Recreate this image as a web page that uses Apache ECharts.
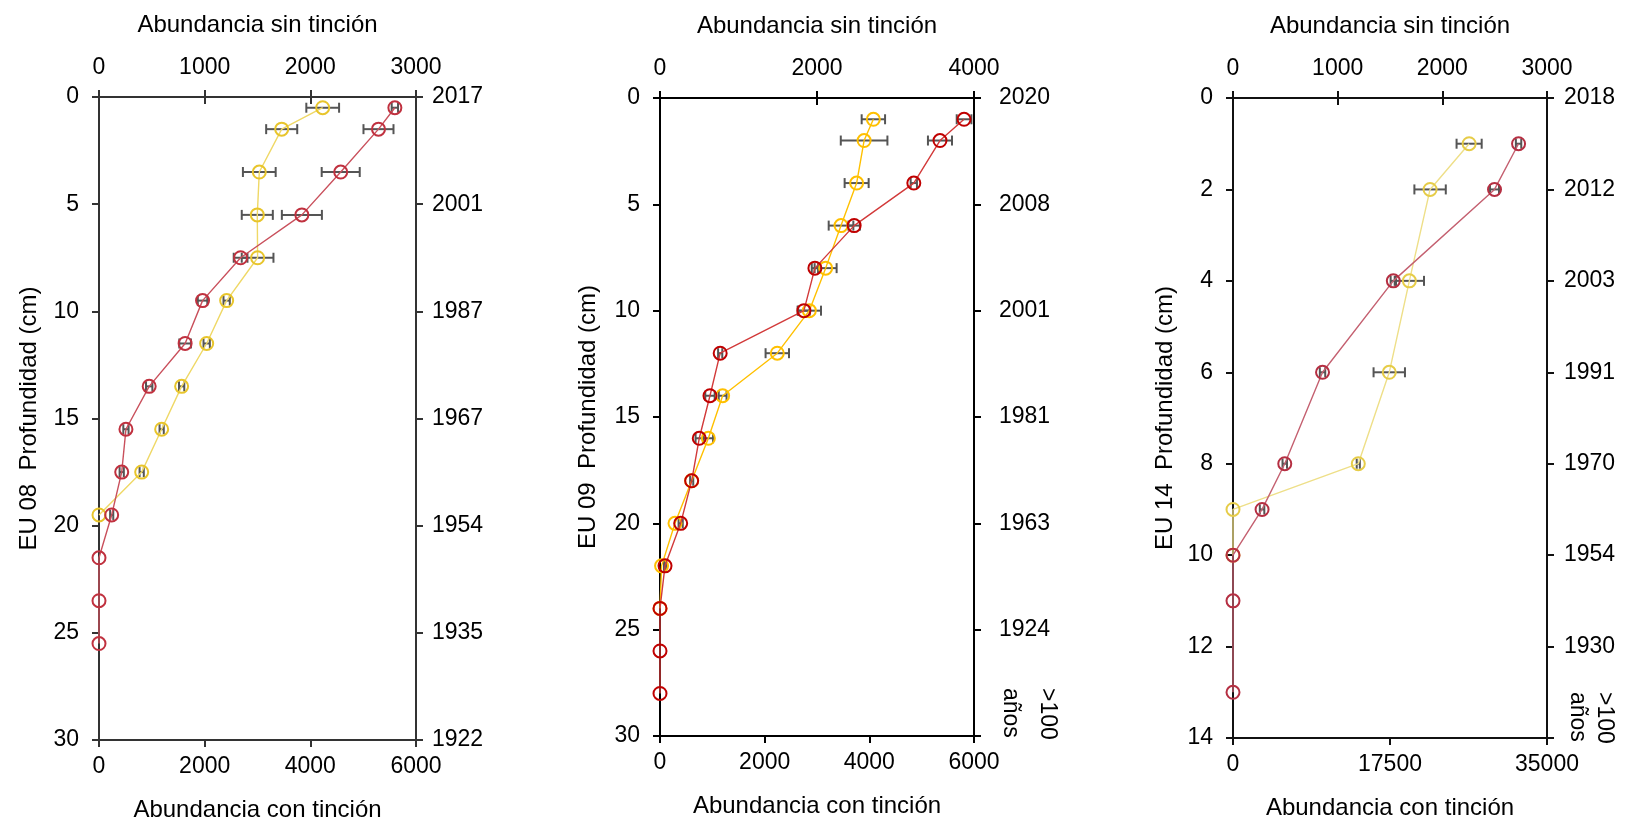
<!DOCTYPE html>
<html lang="es">
<head>
    <meta charset="UTF-8">
    <title>Abundancia con y sin tinción</title>
    <script src="https://cdn.jsdelivr.net/npm/echarts@6/dist/echarts.min.js"></script>
    <style>
        html, body {margin: 0; padding: 0; background: #fff;}
        #chart {width: 1640px; height: 827px;}
    </style>
</head>
<body>
<div id="chart"></div>
<script type="text/javascript">
    // EU 08 - profundidad (cm), abundancia con tinción (rojo) y sin tinción (amarillo)
    var depth08Con = [0.5, 1.5, 3.5, 5.5, 7.5, 9.5, 11.5, 13.5, 15.5, 17.5, 19.5, 21.5, 23.5, 25.5];
    var con08 = [5600, 5290, 4575, 3840, 2680, 1960, 1630, 950, 510, 430, 240, 0, 0, 0];
    var con08Err = [60, 284, 360, 379, 130, 90, 110, 60, 50, 40, 30, 0, 0, 0];
    var depth08Sin = [0.5, 1.5, 3.5, 5.5, 7.5, 9.5, 11.5, 13.5, 15.5, 17.5, 19.5];
    var sin08 = [2117, 1729, 1517, 1498, 1501, 1208, 1019, 782, 593, 404, 0];
    var sin08Err = [155, 147, 155, 147, 150, 30, 30, 25, 20, 20, 0];
    var years08 = ['2017', '2001', '1987', '1967', '1954', '1935', '1922'];

    // EU 09
    var depth09Con = [1, 2, 4, 6, 8, 10, 12, 14, 16, 18, 20, 22, 24, 26, 28];
    var con09 = [5810, 5350, 4850, 3710, 2960, 2750, 1150, 955, 750, 605, 395, 96, 0, 0, 0];
    var con09Err = [140, 230, 60, 110, 60, 110, 40, 90, 70, 30, 40, 20, 0, 0, 0];
    var depth09Sin = [1, 2, 4, 6, 8, 10, 12, 14, 16, 18, 20, 22, 24];
    var sin09 = [2718, 2600, 2505, 2306, 2110, 1902, 1494, 798, 616, 403, 191, 20, 0];
    var sin09Err = [149, 297, 153, 157, 140, 149, 149, 50, 60, 0, 0, 0, 0];
    var years09 = ['2020', '2008', '2001', '1981', '1963', '1924', ''];

    // EU 14
    var depth14Con = [1, 2, 4, 6, 8, 9, 10, 11, 13];
    var con14 = [31830, 29150, 17870, 9980, 5770, 3240, 0, 0, 0];
    var con14Err = [300, 500, 300, 300, 250, 250, 0, 0, 0];
    var depth14Sin = [1, 2, 4, 6, 8, 9, 10];
    var sin14 = [2256, 1883, 1685, 1493, 1197, 0, 0];
    var sin14Err = [120, 150, 140, 150, 15, 0, 0];
    var years14 = ['2018', '2012', '2003', '1991', '1970', '1954', '1930', ''];

    var FONT = '"Liberation Sans", Arial, sans-serif';
    var FS = 23;

    function pairs(xs, ys, es) {
        var res = [];
        for (var i = 0; i < ys.length; i++) {
            res.push(es ? [xs[i], ys[i], es[i]] : [xs[i], ys[i]]);
        }
        return res;
    }

    // barras de error horizontales con remates
    function errBar(params, api) {
        var x = api.value(0), y = api.value(1), e = api.value(2);
        if (!e) return null;
        var p1 = api.coord([x - e, y]);
        var p2 = api.coord([x + e, y]);
        var h = 5;
        var st = {stroke: '#555', lineWidth: 2};
        return {
            type: 'group',
            children: [
                {type: 'line', shape: {x1: p1[0], y1: p1[1], x2: p2[0], y2: p2[1]}, style: st},
                {type: 'line', shape: {x1: p1[0], y1: p1[1] - h, x2: p1[0], y2: p1[1] + h}, style: st},
                {type: 'line', shape: {x1: p2[0], y1: p2[1] - h, x2: p2[0], y2: p2[1] + h}, style: st}
            ]
        };
    }

    var panels = [
        {grid: {left: 99, top: 97, width: 317, height: 643}, conMax: 6000, conInt: 2000, sinMax: 3000, sinInt: 1000,
            yMax: 30, yInt: 5, years: years08, name: 'EU 08  Profundidad (cm)', axisColor: '#333', nameGap: 58,
            rightMargin: 16,
            red: '#c0313f', redLine: '#c9505c', yel: '#e8c52c', yelLine: '#efd866'},
        {grid: {left: 660, top: 98, width: 314, height: 638}, conMax: 6000, conInt: 2000, sinMax: 4000, sinInt: 2000,
            yMax: 30, yInt: 5, years: years09, name: 'EU 09  Profundidad (cm)', axisColor: '#000', nameGap: 60,
            rightMargin: 25,
            red: '#c00000', redLine: '#d23a3a', yel: '#ffc000', yelLine: '#ffc000'},
        {grid: {left: 1233, top: 98, width: 314, height: 640}, conMax: 35000, conInt: 17500, sinMax: 3000, sinInt: 1000,
            yMax: 14, yInt: 2, years: years14, name: 'EU 14  Profundidad (cm)', axisColor: '#111', nameGap: 56,
            rightMargin: 17,
            red: '#b52f42', redLine: '#c46070', yel: '#e6cc48', yelLine: '#eedf88'}
    ];

    var seriesData = [
        {con: pairs(con08, depth08Con, con08Err), sin: pairs(sin08, depth08Sin, sin08Err)},
        {con: pairs(con09, depth09Con, con09Err), sin: pairs(sin09, depth09Sin, sin09Err)},
        {con: pairs(con14, depth14Con, con14Err), sin: pairs(sin14, depth14Sin, sin14Err)}
    ];

    var grids = [], xAxes = [], yAxes = [], series = [];
    var labelStyle = {color: '#000', fontSize: FS, fontFamily: FONT};
    var nameStyle = {color: '#000', fontSize: 24, fontFamily: FONT};
    var plain = function (v) { return String(v); };

    panels.forEach(function (p, i) {
        grids.push(p.grid);
        var line = {show: true, onZero: false, lineStyle: {color: p.axisColor, width: 2}};
        var tick = {show: true, length: 7, lineStyle: {color: p.axisColor, width: 2}};
        // eje inferior: con tinción
        xAxes.push({
            type: 'value', gridIndex: i, position: 'bottom', min: 0, max: p.conMax, interval: p.conInt,
            name: 'Abundancia con tinción', nameLocation: 'middle', nameGap: 58,
            nameTextStyle: nameStyle,
            axisLine: line, axisTick: tick, splitLine: {show: false},
            axisLabel: Object.assign({margin: 15, formatter: plain}, labelStyle)
        });
        // eje superior: sin tinción
        xAxes.push({
            type: 'value', gridIndex: i, position: 'top', min: 0, max: p.sinMax, interval: p.sinInt,
            name: 'Abundancia sin tinción', nameLocation: 'middle', nameGap: 60,
            nameTextStyle: nameStyle,
            axisLine: line, axisTick: tick, splitLine: {show: false},
            axisLabel: Object.assign({margin: 18, formatter: plain}, labelStyle)
        });
        // marcas interiores del eje superior
        xAxes.push({
            type: 'value', gridIndex: i, position: 'top', min: 0, max: p.sinMax, interval: p.sinInt,
            axisLine: {show: false, onZero: false}, axisLabel: {show: false}, splitLine: {show: false},
            axisTick: {show: true, inside: true, length: 7, lineStyle: {color: p.axisColor, width: 2}}
        });
        yAxes.push({
            type: 'value', gridIndex: i, position: 'left', inverse: true, min: 0, max: p.yMax, interval: p.yInt,
            name: p.name, nameLocation: 'middle', nameGap: p.nameGap,
            nameTextStyle: nameStyle,
            axisLine: line, axisTick: tick, splitLine: {show: false},
            axisLabel: Object.assign({margin: 20, formatter: plain}, labelStyle)
        });
        yAxes.push({
            type: 'value', gridIndex: i, position: 'right', inverse: true, min: 0, max: p.yMax, interval: p.yInt,
            axisLine: line, axisTick: tick, splitLine: {show: false},
            axisLabel: Object.assign({
                margin: p.rightMargin, formatter: function (v) {
                    return p.years[Math.round(v / p.yInt)] || '';
                }
            }, labelStyle)
        });

        var xb = 3 * i, xt = 3 * i + 1, yl = 2 * i;
        series.push({
            type: 'custom', xAxisIndex: xt, yAxisIndex: yl, renderItem: errBar,
            encode: {x: 0, y: 1}, data: seriesData[i].sin, z: 2, silent: true
        });
        series.push({
            type: 'custom', xAxisIndex: xb, yAxisIndex: yl, renderItem: errBar,
            encode: {x: 0, y: 1}, data: seriesData[i].con, z: 2, silent: true
        });
        series.push({
            name: 'sin tinción', type: 'line', xAxisIndex: xt, yAxisIndex: yl,
            data: seriesData[i].sin, symbol: 'circle', symbolSize: 13, z: 3,
            lineStyle: {color: p.yelLine, width: 1.4},
            itemStyle: {color: 'transparent', borderColor: p.yel, borderWidth: 2},
            animation: false
        });
        series.push({
            name: 'con tinción', type: 'line', xAxisIndex: xb, yAxisIndex: yl,
            data: seriesData[i].con, symbol: 'circle', symbolSize: 13, z: 4,
            lineStyle: {color: p.redLine, width: 1.4},
            itemStyle: {color: 'transparent', borderColor: p.red, borderWidth: 2},
            animation: false
        });
    });

    function vText(x, y, txt) {
        return {
            type: 'text', x: x, y: y, rotation: -Math.PI / 2,
            style: {text: txt, fill: '#000', fontSize: FS, fontFamily: FONT, align: 'left', verticalAlign: 'middle'}
        };
    }

    var option = {
        animation: false,
        backgroundColor: '#fff',
        grid: grids,
        xAxis: xAxes,
        yAxis: yAxes,
        series: series,
        graphic: [
            vText(1010, 688, 'años'), vText(1047, 688, '>100'),
            vText(1577, 692, 'años'), vText(1604, 692, '>100')
        ]
    };

    var myChart = echarts.init(document.getElementById('chart'));
    myChart.setOption(option);
</script>
</body>
</html>
